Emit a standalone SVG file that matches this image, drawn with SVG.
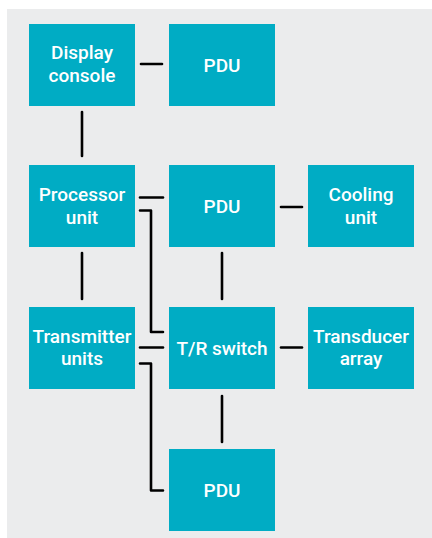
<svg xmlns="http://www.w3.org/2000/svg" width="432" height="538" viewBox="0 0 432 538">
<style>
.box{fill:#00acc4}
.t{font-family:Roboto,"Liberation Sans",Arial,sans-serif;font-weight:500;font-size:19px;fill:#ffffff;text-anchor:middle}
.c{fill:none;stroke:#000000;stroke-width:2.6;stroke-linecap:round;stroke-linejoin:round}
</style>
<rect x="7" y="9" width="425" height="529" fill="#ebeced"/>
<g id="connectors">
<path class="c" d="M141 64H162"/>
<path class="c" d="M82 112V156"/>
<path class="c" d="M140 197.5H163"/>
<path class="c" d="M140 210.5H151V332H163"/>
<path class="c" d="M281 207H302"/>
<path class="c" d="M222 253V299"/>
<path class="c" d="M82 253V299"/>
<path class="c" d="M140 347.5H163"/>
<path class="c" d="M281 347.5H302"/>
<path class="c" d="M140 363.5H151V490.5H163"/>
<path class="c" d="M222 396V442"/>
</g>
<g id="display-console"><rect class="box" x="29" y="24" width="106" height="82"/><text class="t" x="82" y="58.5">Display</text><text class="t" x="82" y="82">console</text></g>
<g id="pdu-1"><rect class="box" x="169" y="24" width="106" height="82"/><text class="t" x="222" y="71.5">PDU</text></g>
<g id="processor-unit"><rect class="box" x="29" y="165" width="106" height="82"/><text class="t" x="82" y="201">Processor</text><text class="t" x="82" y="224">unit</text></g>
<g id="pdu-2"><rect class="box" x="169" y="165" width="106" height="82"/><text class="t" x="222" y="212.5">PDU</text></g>
<g id="cooling-unit"><rect class="box" x="308" y="165" width="106" height="82"/><text class="t" x="361" y="201">Cooling</text><text class="t" x="361" y="223.5">unit</text></g>
<g id="transmitter-units"><rect class="box" x="29" y="307" width="106" height="82"/><text class="t" x="82" y="342.5">Transmitter</text><text class="t" x="82" y="365">units</text></g>
<g id="tr-switch"><rect class="box" x="169" y="307" width="106" height="82"/><text class="t" x="222" y="354.5">T/R switch</text></g>
<g id="transducer-array"><rect class="box" x="308" y="307" width="106" height="82"/><text class="t" x="361" y="342.5">Transducer</text><text class="t" x="361" y="365">array</text></g>
<g id="pdu-3"><rect class="box" x="169" y="449" width="106" height="82"/><text class="t" x="222" y="496.5">PDU</text></g>
</svg>
